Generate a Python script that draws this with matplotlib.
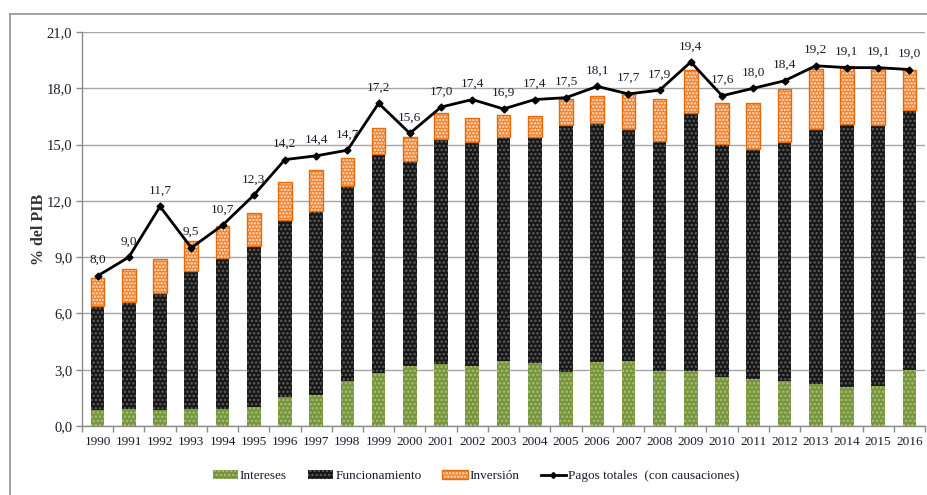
import numpy as np
import matplotlib
matplotlib.use("Agg")
import matplotlib.pyplot as plt
from matplotlib.patches import Patch
from matplotlib.lines import Line2D
from matplotlib.legend_handler import HandlerTuple
from matplotlib.ticker import FuncFormatter

years = [str(y) for y in range(1990, 2017)]
intereses = [0.85, 0.92, 0.85, 0.92, 0.92, 0.99, 1.52, 1.67, 2.41, 2.82, 3.19, 3.28, 3.19, 3.49,
             3.37, 2.89, 3.43, 3.49, 2.91, 2.93, 2.62, 2.52, 2.39, 2.22, 2.07, 2.15, 2.96]
funcionamiento_top = [6.38, 6.6, 7.11, 8.24, 8.97, 9.57, 10.99, 11.44, 12.78, 14.52, 14.1, 15.29, 15.14, 15.43,
                      15.43, 16.03, 16.14, 15.82, 15.2, 16.7, 15.04, 14.75, 15.14, 15.82, 16.1, 16.03, 16.85]
inversion_top = [7.9, 8.39, 8.9, 9.86, 10.67, 11.37, 12.98, 13.65, 14.26, 15.86, 15.43, 16.7, 16.4, 16.6,
                 16.54, 17.43, 17.6, 17.74, 17.44, 18.98, 17.2, 17.2, 17.95, 19.01, 19.19, 19.01, 18.98]
pagos_totales = [8.0, 9.0, 11.7, 9.5, 10.7, 12.3, 14.2, 14.4, 14.7, 17.2, 15.6, 17.0, 17.4, 16.9, 17.4,
                 17.5, 18.1, 17.7, 17.9, 19.4, 17.6, 18.0, 18.4, 19.2, 19.1, 19.1, 19.0]
y_ticks = [0, 3, 6, 9, 12, 15, 18, 21]

funcionamiento = np.array(funcionamiento_top) - np.array(intereses)
inversion = np.array(inversion_top) - np.array(funcionamiento_top)

plt.rcParams['font.family'] = ['Liberation Serif', 'DejaVu Serif']
plt.rcParams['hatch.linewidth'] = 1.2
txt = '#1b1b30'

fig = plt.figure(figsize=(9.27, 4.95), dpi=100)
ax = fig.add_axes([82/927, 1 - 426/495, (925-82)/927, (426-32)/495])

x = np.arange(len(years))
w = 0.44
green, green_dot = '#77933C', '#A8BF78'
black, black_dot = '#161616', '#5e5e5e'
orange, orange_dot, orange_edge = '#F07F2A', '#FDE8D6', '#E46C0A'

ax.bar(x, intereses, w, color=green, edgecolor=green_dot, linewidth=0, hatch='....', zorder=3)
ax.bar(x, funcionamiento, w, bottom=intereses, color=black, edgecolor=black_dot, linewidth=0,
       hatch='....', zorder=3)
ax.bar(x, inversion, w, bottom=funcionamiento_top, color=orange, edgecolor=orange_dot, linewidth=0,
       hatch='.....', zorder=3)
ax.bar(x, inversion, w, bottom=funcionamiento_top, color='none', edgecolor=orange_edge, linewidth=1.0,
       zorder=3)
ax.plot(x, pagos_totales, color='black', lw=2, marker='D', markersize=3.5, zorder=4)
for xi, v in zip(x, pagos_totales):
    ax.annotate(f"{v:.1f}".replace('.', ','), (xi, v), xytext=(0, 7), textcoords='offset points',
                ha='center', va='bottom', fontsize=9.5, color=txt)

ax.set_xlim(-0.5, len(years) - 0.5)
ax.set_ylim(0, 21)
ax.set_yticks(y_ticks)
ax.yaxis.set_major_formatter(FuncFormatter(lambda v, p: f"{v:.1f}".replace('.', ',')))
ax.set_xticks(x)
ax.set_xticklabels(years)
ax.set_xticks(np.arange(-0.5, len(years), 1), minor=True)
ax.tick_params(axis='x', which='major', length=0, pad=7, labelsize=9.5, labelcolor=txt)
ax.tick_params(axis='x', which='minor', length=4, color='#8c8c8c', width=1)
ax.tick_params(axis='y', length=4, color='#8c8c8c', width=1, labelsize=10.5, labelcolor=txt, pad=3)
ax.grid(axis='y', color='#a6a6a6', lw=1, zorder=0)
ax.set_axisbelow(True)
for s in ['top', 'right']:
    ax.spines[s].set_visible(False)
for s in ['left', 'bottom']:
    ax.spines[s].set_color('#8c8c8c')
    ax.spines[s].set_linewidth(1)
ax.set_ylabel('% del PIB', fontsize=11.5, fontweight='bold', color='#333333', labelpad=0)

handles = [
    Patch(facecolor=green, edgecolor=green_dot, linewidth=0, hatch='....'),
    Patch(facecolor=black, edgecolor=black_dot, linewidth=0, hatch='....'),
    (Patch(facecolor=orange, edgecolor=orange_dot, linewidth=0, hatch='.....'),
     Patch(facecolor='none', edgecolor=orange_edge, linewidth=1)),
    Line2D([], [], color='black', lw=2, marker='D', markersize=3),
]
labels = ['Intereses', 'Funcionamiento', 'Inversión', 'Pagos totales  (con causaciones)']
leg = fig.legend(handles, labels, loc='center', bbox_to_anchor=(476/927, 1 - 476/495), ncol=4,
                 frameon=False, fontsize=9.5, handlelength=1.9, handleheight=0.7, handletextpad=0.15,
                 columnspacing=1.6, handler_map={tuple: HandlerTuple(ndivide=1, pad=0)})
for t in leg.get_texts():
    t.set_color(txt)

# outer frame
fig.add_artist(Line2D([10/927, 10/927], [0, 1 - 14/495], transform=fig.transFigure, color='#9a9a9a', lw=1.3))
fig.add_artist(Line2D([10/927, 1], [1 - 14/495, 1 - 14/495], transform=fig.transFigure, color='#9a9a9a', lw=1.3))

fig.savefig('out.png', dpi=100)
